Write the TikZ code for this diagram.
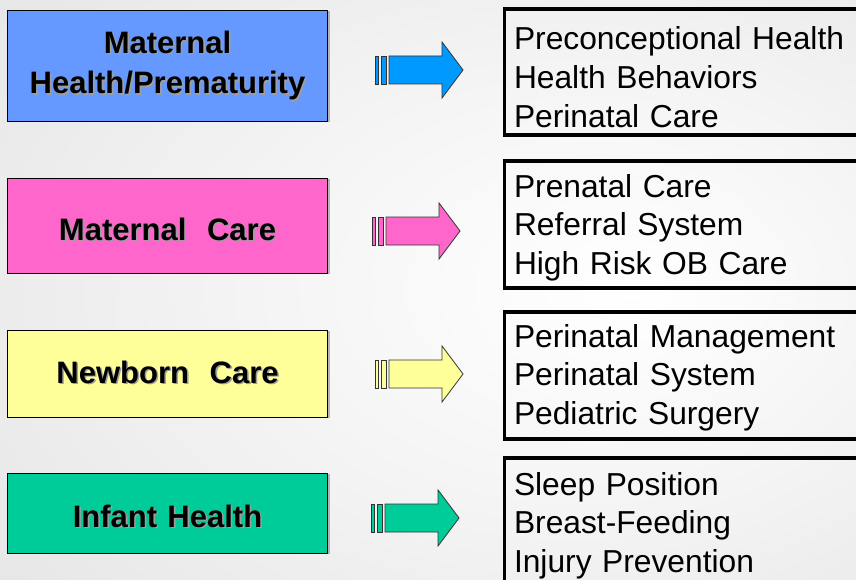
\documentclass[tikz,border=0pt]{standalone}
\usepackage{fontspec}
\setmainfont{Liberation Sans}
\definecolor{boxblue}{HTML}{6699FF}
\definecolor{arrblue}{HTML}{0099FF}
\definecolor{boxpink}{HTML}{FF66CC}
\definecolor{boxyellow}{HTML}{FFFF99}
\definecolor{boxgreen}{HTML}{00CC99}
\pgfdeclareradialshading{bgshade}{\pgfpoint{12bp}{0bp}}{color(0bp)=(white); color(18bp)=(white!96!black); color(72bp)=(black!18)}
\newcommand{\shtext}[1]{\makebox[0pt][l]{\hspace{1.6pt}\raisebox{-1.6pt}{\textcolor{black!38}{#1}}}#1}
\newcommand{\blockarrow}[3]{%
  \begin{scope}[shift={(#1,#2)}]
    \filldraw[arrowline, fill=#3] (0,-14) rectangle (3,14);
    \filldraw[arrowline, fill=#3] (6,-14) rectangle (11,14);
    \filldraw[arrowline, fill=#3] (14,-14) -- (67,-14) -- (67,-28) -- (88,0)
      -- (67,28) -- (67,14) -- (14,14) -- cycle;
  \end{scope}}
\begin{document}
\begin{tikzpicture}[x=1pt,y=-1pt,
  leftbox/.style={draw=black, line width=1pt, anchor=north west, outer sep=0pt,
    inner sep=0pt, minimum width=320pt},
  boxshadow/.style={fill=black!45, opacity=0.6},
  rightbox/.style={draw=black, line width=3.3pt, anchor=north west, outer sep=0pt,
    inner sep=0pt, minimum width=380pt},
  lefttext/.style={font=\fontsize{31}{40.7}\selectfont\bfseries, inner sep=0pt,
    outer sep=0pt, anchor=base, text width=320pt, align=center},
  righttext/.style={font=\fontsize{31.75}{38.8}\selectfont, inner sep=0pt,
    outer sep=0pt, anchor=base west, text width=340pt, align=left},
  arrowline/.style={draw=black!80, line width=0.8pt, line join=miter}]
\useasboundingbox (0,0) rectangle (856,580);
\clip (0,0) rectangle (856,580);
\shade[shading=bgshade] (0,0) rectangle (856,580);

% left boxes (thin shadow on the right)
\fill[boxshadow] (328,11) rectangle (330,122);
\fill[boxshadow] (328,179) rectangle (330,274);
\fill[boxshadow] (328,331) rectangle (330,418);
\fill[boxshadow] (328,474) rectangle (330,554);
\node[leftbox, fill=boxblue, minimum height=111pt] (m1) at (7.5,10.5) {};
\node[leftbox, fill=boxpink, minimum height=95pt] (m2) at (7.5,178.5) {};
\node[leftbox, fill=boxyellow, minimum height=87pt] (m3) at (7.5,330.5) {};
\node[leftbox, fill=boxgreen, minimum height=80pt] (m4) at (7.5,473.5) {};

\node[lefttext] (t1) at (167.5,53.3) {\shtext{Maternal}\\\shtext{Health/Prematurity}};
\node[lefttext] (t2) at (167.5,240) {\shtext{Maternal\ \ Care}};
\node[lefttext] (t3) at (167.5,383) {\shtext{Newborn\ \ Care}};
\node[lefttext] (t4) at (167.5,527) {\shtext{Infant Health}};

% block arrows
\blockarrow{375}{70}{arrblue}
\blockarrow{372}{231}{boxpink}
\blockarrow{375}{374}{boxyellow}
\blockarrow{371}{518}{boxgreen}

% right boxes
\node[rightbox, minimum height=126pt] (r1) at (504.5,9) {};
\node[rightbox, minimum height=127pt] (r2) at (504.5,161) {};
\node[rightbox, minimum height=127pt] (r3) at (504.5,312) {};
\node[rightbox, minimum height=150pt] (r4) at (504.5,458) {};

\node[righttext] (l1) at (514,50) {Preconceptional Health\\Health Behaviors\\Perinatal Care};
\node[righttext] (l2) at (514,197) {Prenatal Care\\Referral System\\High Risk OB Care};
\node[righttext] (l3) at (514,347) {Perinatal Management\\Perinatal System\\Pediatric Surgery};
\node[righttext] (l4) at (514,495) {Sleep Position\\Breast-Feeding\\Injury Prevention};
\end{tikzpicture}
\end{document}
